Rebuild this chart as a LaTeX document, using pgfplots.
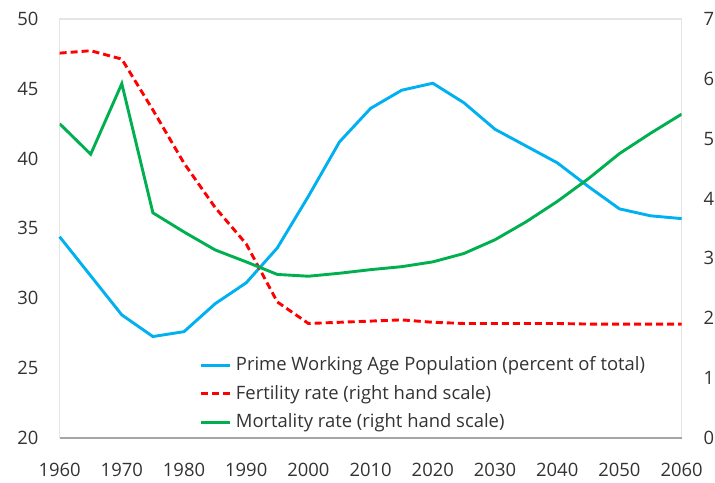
\documentclass[border=0pt]{standalone}
\usepackage{pgfplots}
\pgfplotsset{compat=1.18}
\usepackage{fontspec}
\setmainfont{Open Sans}
\definecolor{pblue}{HTML}{00B0F0}
\definecolor{pred}{HTML}{FF0000}
\definecolor{pgreen}{HTML}{00B050}
\definecolor{txt}{HTML}{333333}
\begin{document}
\begin{tikzpicture}
\pgfplotsset{
  every axis/.append style={
    width=310.5pt, height=209pt, scale only axis=true,
    xmin=1960, xmax=2060,
    font=\fontsize{9.2}{11}\selectfont\color{txt},
    /pgf/number format/assume math mode=true,
    major tick length=0pt,
    tick style={draw=none},
  }
}
\begin{axis}[
  name=main,
  ymin=20, ymax=50, ytick={20,25,...,50},
  xtick={1960,1970,...,2060},
  xticklabel style={/pgf/number format/1000 sep={}, yshift=-9pt},
  yticklabel style={xshift=-7pt},
  axis line style={draw=none},
  clip=false,
]
\draw[color=black!10, line width=0.6pt] (rel axis cs:0,0) rectangle (rel axis cs:1,1);
\draw[color=black!35, line width=0.8pt] (rel axis cs:0,0) -- (rel axis cs:1,0);
\addplot[pblue, line width=1.45pt] coordinates {
(1960,34.4) (1965,31.6) (1970,28.8) (1975,27.25) (1980,27.6) (1985,29.6)
(1990,31.1) (1995,33.6) (2000,37.3) (2005,41.2) (2010,43.6) (2015,44.9)
(2020,45.4) (2025,44.0) (2030,42.1) (2035,40.9) (2040,39.7) (2045,38.0)
(2050,36.4) (2055,35.9) (2060,35.7)};
\end{axis}
\begin{axis}[
  ymin=0, ymax=7, ytick={0,1,...,7},
  axis x line=none,
  axis y line*=right,
  axis line style={draw=none},
  yticklabel style={xshift=7.5pt},
  legend style={draw=none, fill=none, at={(0.225,0.105)}, anchor=west,
    font=\fontsize{9.2}{11}\selectfont\color{txt}, inner sep=0pt,
    cells={anchor=west}, row sep=1.75pt},
  legend image code/.code={\draw[#1] (0pt,0pt) -- (14.5pt,0pt);},
]
\addlegendimage{pblue, line width=1.45pt}
\addlegendentry{Prime Working Age Population (percent of total)}
\addplot[pred, line width=1.45pt, dash pattern=on 3.5pt off 2pt] coordinates {
(1960,6.43) (1965,6.47) (1970,6.33) (1975,5.48) (1980,4.59) (1985,3.85)
(1990,3.24) (1995,2.27) (2000,1.91) (2005,1.93) (2010,1.95) (2015,1.97)
(2020,1.93) (2025,1.91) (2030,1.91) (2035,1.91) (2040,1.91) (2045,1.90)
(2050,1.90) (2055,1.90) (2060,1.90)};
\addlegendentry{Fertility rate (right hand scale)}
\addplot[pgreen, line width=1.45pt] coordinates {
(1960,5.25) (1965,4.74) (1970,5.92) (1975,3.76) (1980,3.44) (1985,3.14)
(1990,2.94) (1995,2.73) (2000,2.70) (2005,2.75) (2010,2.81) (2015,2.86)
(2020,2.94) (2025,3.08) (2030,3.31) (2035,3.61) (2040,3.95) (2045,4.33)
(2050,4.75) (2055,5.09) (2060,5.41)};
\addlegendentry{Mortality rate (right hand scale)}
\end{axis}
\pgfresetboundingbox
\path ([xshift=-29.75pt,yshift=-22.35pt]main.south west) rectangle ([xshift=16.65pt,yshift=9.5pt]main.north east);
\end{tikzpicture}
\end{document}
